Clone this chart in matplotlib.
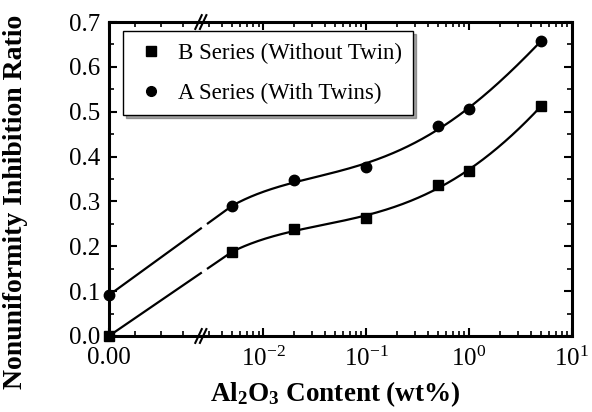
import numpy as np
import matplotlib
matplotlib.use("Agg")
import matplotlib.pyplot as plt
from matplotlib.lines import Line2D

plt.rcParams['font.family'] = ['Liberation Serif', 'DejaVu Serif']
plt.rcParams['mathtext.fontset'] = 'custom'
plt.rcParams['mathtext.rm'] = 'Liberation Serif'
plt.rcParams['mathtext.it'] = 'Liberation Serif:italic'
plt.rcParams['mathtext.bf'] = 'Liberation Serif:bold'

# ---- data ----
al2o3 = [0.0, 0.005, 0.02, 0.1, 0.5, 1.0, 5.0]
b_series = [0.0, 0.187, 0.238, 0.263, 0.336, 0.368, 0.512]
a_series = [0.091, 0.289, 0.348, 0.377, 0.468, 0.506, 0.657]
b_label = "B Series (Without Twin)"
a_label = "A Series (With Twins)"
xtick_vals = [0.0, 0.01, 0.1, 1.0, 10.0]
xtick_labels = ["0.00", r"$10^{-2}$", r"$10^{-1}$", r"$10^{0}$", r"$10^{1}$"]

# ---- broken axis scale: linear 0..XB, log above ----
U0 = -3.5
XB = 0.0025
UB = np.log10(XB)

def fwd(x):
    x = np.asarray(x, dtype=float)
    lin = U0 + (x / XB) * (UB - U0)
    lg = np.log10(np.maximum(x, XB))
    return np.where(x <= XB, lin, lg)

def inv(u):
    u = np.asarray(u, dtype=float)
    lin = (u - U0) / (UB - U0) * XB
    lg = 10.0 ** np.minimum(u, 30)
    return np.where(u <= UB, lin, lg)

def smooth_curve(uk, yk, us):
    # blend of cubic and quartic least-squares fits (a gently smoothed curve)
    c3 = np.polyfit(uk, yk, 3)
    c4 = np.polyfit(uk, yk, 4)
    return 0.5 * (np.polyval(c3, us) + np.polyval(c4, us))

fig = plt.figure(figsize=(5.92, 4.12), dpi=100)
ax = fig.add_axes([0.184, 0.1845, 0.782, 0.762])
ax.set_xscale('function', functions=(fwd, inv))
ax.set_xlim(0, 10)
ax.set_ylim(0, 0.7)

lw = 1.6
for ys in (b_series, a_series):
    xs = np.array(al2o3); yv = np.array(ys)
    uk = np.log10(xs[1:])
    us = np.linspace(uk[0], uk[-1], 300)
    ax.plot(10 ** us, smooth_curve(uk, yv[1:], us), color='black', lw=lw)
    # straight part from 0 to first log point, with gap at the break
    y1 = smooth_curve(uk, yv[1:], np.array([uk[0]]))[0]
    u_a, u_b = fwd(xs[0]), uk[0]
    g1, g2 = UB + 0.005, UB + 0.055
    y_g1 = np.interp(g1, [u_a, u_b], [yv[0], y1])
    y_g2 = np.interp(g2, [u_a, u_b], [yv[0], y1])
    ax.plot([xs[0], inv(g1)], [yv[0], y_g1], color='black', lw=lw, solid_capstyle='butt')
    ax.plot([inv(g2), xs[1]], [y_g2, y1], color='black', lw=lw, solid_capstyle='butt')

ax.plot(al2o3, b_series, 's', color='black', ms=7.5, clip_on=False, zorder=5)
ax.plot(al2o3, a_series, 'o', color='black', ms=7.5, clip_on=False, zorder=5)

# ticks
ax.set_xticks(xtick_vals)
ax.set_xticklabels(xtick_labels)
minor = [0.0007, 0.0014, 0.002]
for dec in (0.001, 0.01, 0.1, 1.0):
    for k in range(2, 10):
        v = k * dec
        if XB < v < 10:
            minor.append(v)
ax.set_xticks(minor, minor=True)
ax.set_yticks(np.arange(0, 0.71, 0.1))
ax.set_yticklabels([f"{v:.1f}" for v in np.arange(0, 0.71, 0.1)])
ax.set_yticks(np.arange(0.05, 0.7, 0.1), minor=True)
ax.tick_params(which='both', direction='in', top=True, right=True, labelsize=18)
ax.tick_params(which='major', length=6, width=1.5)
ax.tick_params(which='minor', length=3.5, width=1.2)
ax.tick_params(axis='x', pad=8)
ax.tick_params(axis='y', pad=6)
for s in ax.spines.values():
    s.set_linewidth(2.2)

# break marks
xb_ax = (UB - U0) / (fwd(10.0) - U0)
for yb in (0.0, 1.0):
    for off in (-0.006, 0.004):
        ax.add_line(Line2D([xb_ax + off - 0.007, xb_ax + off + 0.007], [yb - 0.022, yb + 0.022],
                           transform=ax.transAxes, color='black', lw=1.5, clip_on=False, zorder=6))

ax.set_xlabel(r"Al$_\mathbf{2}$O$_\mathbf{3}$ Content (wt%)", fontsize=19.5, fontweight='bold',
              va='baseline')
ax.xaxis.set_label_coords(0.488, -0.208)
ax.set_ylabel("Nonuniformity Inhibition Ratio", fontsize=20, fontweight='bold', va='center')
ax.yaxis.set_label_coords(-0.201, 0.427)

handles = [Line2D([], [], ls='none', marker='s', color='black', ms=7),
           Line2D([], [], ls='none', marker='o', color='black', ms=7)]
leg = ax.legend(handles, [b_label, a_label], loc='upper left', bbox_to_anchor=(0.03, 0.97),
                borderaxespad=0, frameon=True, fancybox=False, shadow=True, fontsize=16.5,
                handlelength=1.5, handletextpad=0.4, labelspacing=0.8, borderpad=0.5)
leg.get_frame().set_edgecolor('black')
leg.get_frame().set_linewidth(1.0)

fig.savefig("out.png", dpi=100)
